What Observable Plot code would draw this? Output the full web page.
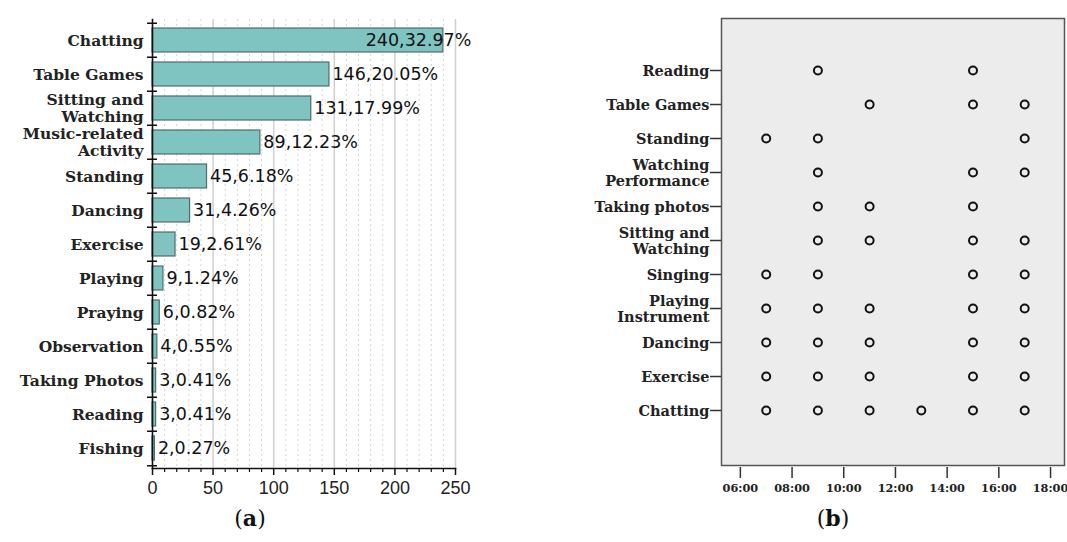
<!DOCTYPE html>
<html><head><meta charset="utf-8">
<script src="https://cdn.jsdelivr.net/npm/d3@7"></script>
<script src="https://cdn.jsdelivr.net/npm/@observablehq/plot@0.6"></script>
<style>
body{margin:0;background:#fff;width:1067px;height:542px;position:relative;overflow:hidden;font-family:"DejaVu Serif",serif}
#a{position:absolute;left:0;top:0}
#b{position:absolute;left:590px;top:0}
.cap{position:absolute;top:505px;width:60px;text-align:center;font-size:22px;color:#111;font-family:"DejaVu Serif",serif}
</style></head><body>
<div id="a"></div><div id="b"></div>
<div class="cap" style="left:220px">(<b>a</b>)</div>
<div class="cap" style="left:803px">(<b>b</b>)</div>
<script>
// ---- Panel (a) data ----
const activities = ["Chatting","Table Games","Sitting and Watching","Music-related Activity","Standing","Dancing","Exercise","Playing","Praying","Observation","Taking Photos","Reading","Fishing"];
const counts = [240,146,131,89,45,31,19,9,6,4,3,3,2];
const percents = ["32.97%","20.05%","17.99%","12.23%","6.18%","4.26%","2.61%","1.24%","0.82%","0.55%","0.41%","0.41%","0.27%"];
const countTicks = [0,50,100,150,200,250];
const countMinorTicks = [10,20,30,40,60,70,80,90,110,120,130,140,160,170,180,190,210,220,230,240];

// ---- Panel (b) data ----
const timeActivities = ["Reading","Table Games","Standing","Watching Performance","Taking photos","Sitting and Watching","Singing","Playing Instrument","Dancing","Exercise","Chatting"];
const timeSlots = [[9,15],[11,15,17],[7,9,17],[9,15,17],[9,11,15],[9,11,15,17],[7,9,15,17],[7,9,11,15,17],[7,9,11,15,17],[7,9,11,15,17],[7,9,11,13,15,17]];
const hourTicks = [6,8,10,12,14,16,18];

const wrap = {"Sitting and Watching":"Sitting and\nWatching","Music-related Activity":"Music-related\nActivity","Watching Performance":"Watching\nPerformance","Playing Instrument":"Playing\nInstrument"};

const barData = activities.map((a,i)=>({activity:a, count:counts[i], pct:percents[i]}));
const maxCount = d3.max(counts);
const step = 449/13;

const chartA = Plot.plot({
  width:490, height:510, marginLeft:152, marginRight:35, marginTop:19, marginBottom:42,
  style:{background:"transparent", overflow:"visible"},
  x:{domain:[0,250]},
  y:{domain:activities, paddingInner:0.3, paddingOuter:0.15},
  marks:[
    Plot.gridX(countMinorTicks, {stroke:"#d4d4d4", strokeOpacity:1, strokeDasharray:"2,3"}),
    Plot.gridX(countTicks.slice(1), {stroke:"#d0d0d0", strokeOpacity:1, strokeWidth:1.5}),
    Plot.barX(barData, {x:"count", y:"activity", fill:"#7fc4c1", stroke:"#4b6f6d", strokeWidth:1.2}),
    Plot.text(barData.filter(d=>d.count<maxCount), {x:"count", y:"activity", text:d=>d.count+","+d.pct, textAnchor:"start", dx:3, fontFamily:"DejaVu Sans", fontSize:17.5, fill:"#111"}),
    Plot.text(barData.filter(d=>d.count===maxCount), {x:"count", y:"activity", text:d=>d.count+","+d.pct, textAnchor:"end", dx:28, fontFamily:"DejaVu Sans", fontSize:17.5, fill:"#111"}),
    Plot.frame({anchor:"left", stroke:"#111", strokeWidth:1.6}),
    Plot.frame({anchor:"bottom", stroke:"#111", strokeWidth:1.6}),
    Plot.axisX({ticks:countTicks, tickSize:7, tickPadding:6, fontFamily:"Liberation Sans", fontSize:18, fill:"#222", label:null, stroke:"#111", strokeWidth:1.5}),
    Plot.axisX({ticks:countMinorTicks, tickSize:4, text:null, label:null, stroke:"#111", strokeWidth:1.2}),
    Plot.axisY({tickSize:0, tickPadding:9, fontFamily:"DejaVu Serif", fontWeight:"bold", fontSize:15.5, lineHeight:1.1, fill:"#222", tickFormat:d=>wrap[d]??d, label:null}),
    Plot.ruleY(activities, {y:d=>d, x1:0, x2:0, insetLeft:-5, insetRight:-5, dy:-step/2, stroke:"#111", strokeWidth:1.5}),
    Plot.ruleY(activities.slice(-1), {y:d=>d, x1:0, x2:0, insetLeft:-5, insetRight:-5, dy:step/2, stroke:"#111", strokeWidth:1.5})
  ]
});
document.getElementById("a").append(chartA);

const dotData = timeActivities.flatMap((a,i)=>timeSlots[i].map(h=>({activity:a, hour:h})));
const fmtHour = h => String(h).padStart(2,"0")+":00";

const chartB = Plot.plot({
  width:477, height:500, marginLeft:131, marginRight:3, marginTop:18, marginBottom:33,
  style:{background:"transparent", overflow:"visible"},
  x:{domain:[5.27,18.54]},
  y:{type:"point", domain:timeActivities, range:[66,414], padding:0},
  marks:[
    Plot.frame({fill:"#ececec", stroke:"#555", strokeWidth:1.5, insetBottom:2}),
    Plot.dot(dotData, {x:"hour", y:"activity", r:4, stroke:"#111", strokeWidth:2, fill:"none"}),
    Plot.axisX({ticks:hourTicks, tickFormat:fmtHour, tickSize:11, tickPadding:5, fontFamily:"DejaVu Serif", fontWeight:"bold", fontSize:11.3, fill:"#222", label:null, stroke:"#333", strokeWidth:1.5}),
    Plot.axisY({tickSize:11, tickPadding:1, fontFamily:"DejaVu Serif", fontWeight:"bold", fontSize:14.5, lineHeight:1.1, fill:"#222", tickFormat:d=>wrap[d]??d, label:null, stroke:"#333", strokeWidth:1.5})
  ]
});
document.getElementById("b").append(chartB);
</script>
</body></html>
